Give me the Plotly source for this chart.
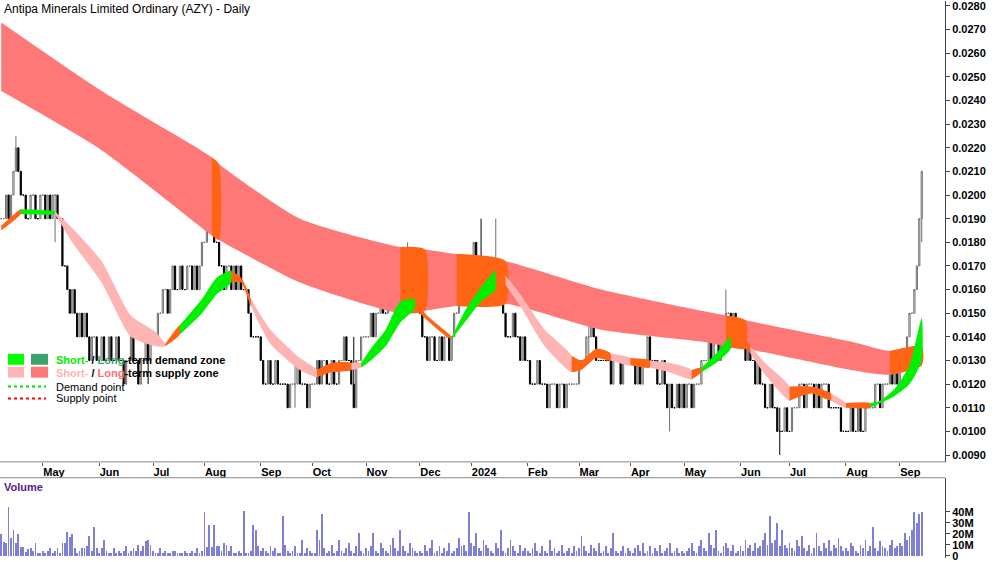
import plotly.graph_objects as go
import numpy as np

# daily closes in thousandths of a dollar, month by month (Apr 2023 .. Sep 2024)
closes = (
    [19,19,20,19,20,21,22,21,20,20,19,19,20,20,19,19,20]
    + [20,19,20,19,20,20,19,19,17,17,16,15,16,15,14,15,14,15,14,13,14,14,13]
    + [13,14,13,13,14,13,13,14,13,13,12,13,13,14,13,13,12,13,13,14,13,14]
    + [14,14,15,15,16,16,15,16,17,16,16,17,16,16,17,17,16,17,16,17,18]
    + [18,19,20,19,18,18,17,17,16,17,17,16,17,16,17,16,16,16,15,14,14,14,14]
    + [13,12,12,13,12,12,13,12,12,12,12,11,12,12,12,13,12,12,12,11,12]
    + [12,12,13,12,13,13,12,12,13,12,12,13,13,14,13,13,12,11,13,13,14,14]
    + [14,14,15,14,15,15,16,15,15,16,16,17,16,17,17,16,16,17,17,17,16,16]
    + [15,14,14,13,14,14,13,13,14,13,14,14,13,14,15,15,16,16,17,17,16]
    + [17,18,17,16,16,17,17,16,17,17,17,17,16,15,14,14,14,15,14,14,13,14,13]
    + [13,12,12,12,13,12,12,12,11,12,12,12,11,12,12,11,12,12,12,12,12]
    + [13,13,13,14,14,15,14,13,13,13,13,13,13,12,13,13,13,12,13,13,13]
    + [13,13,12,13,12,13,13,14,13,13,13,12,12,13,12,11,12,11,11,12,11,12]
    + [11,12,12,11,12,12,12,13,13,13,14,13,14,14,13,14,14,15,15,14,15,14,14]
    + [14,14,13,14,13,13,12,13,12,12,11,11,12,11,11,10,10,10,11,10]
    + [10,11,11,11,12,12,11,12,12,12,11,12,11,12,12,12,11,11,11,11,11,10,10]
    + [10,10,11,10,10,11,10,10,11,11,11,11,12,12,11,12,12,12,13,12,13,12]
    + [13,13,13,14,15,15,16,17,19,21]
)

# wick extremes that stand out
spike_idx = [6, 22, 60, 85, 120, 144, 166, 196, 202, 240, 273, 296, 318, 376]
spike_high = [22.5, 20, 14, 21.3, 13, 14, 18, 19, 19, 15, 12, 16, 11, 21]
spike_low = [21, 18, 12, 19, 11, 11, 16, 17, 17, 13, 10, 14, 9, 18]

# daily volume in millions of shares
volumes = (
    [20,13,12,45,16,24,12,20,8,8,4,6,7,5,12,3,3]
    + [5,3,5,7,3,5,7,3,12,12,22,17,20,7,3,5,7,7,9,18,5,26,7]
    + [3,7,15,5,3,3,7,3,5,3,5,9,3,5,7,5,10,5,9,14,15,10]
    + [5,3,3,7,3,5,3,3,5,5,3,3,3,5,3,3,5,3,7,3,5]
    + [40,8,28,8,28,9,9,5,12,10,5,9,3,3,5,3,41,3,3,5,28,24,9]
    + [5,7,5,3,9,5,7,3,3,36,10,5,3,5,9,3,3,15,3,7,5]
    + [3,3,24,15,38,7,3,5,10,3,5,15,5,3,7,12,5,3,9,21,5,3]
    + [7,5,9,21,5,3,12,7,5,3,10,16,7,5,24,9,5,3,12,7,5,3]
    + [5,3,10,5,7,15,3,5,9,3,7,5,12,3,5,7,16,9,10,5,40]
    + [12,9,21,7,5,15,10,7,5,3,12,7,24,5,3,7,15,9,5,3,10,5,7]
    + [5,3,7,12,5,3,9,5,3,15,5,7,3,5,10,3,5,7,3,9,5]
    + [7,18,9,5,3,10,7,5,12,3,5,9,3,7,21,5,3,5,9,3,7]
    + [5,3,7,10,5,12,3,5,9,3,7,5,10,3,5,7,12,3,5,7,3,5]
    + [3,5,7,12,5,3,9,15,7,5,21,10,7,24,5,3,9,12,7,5,10,3,5]
    + [9,5,15,7,10,5,12,7,9,15,21,10,36,12,15,30,9,24,10,7]
    + [12,7,5,15,9,18,7,5,10,3,7,21,9,5,12,7,15,5,10,7,16,9,5]
    + [7,5,12,9,5,3,10,7,15,5,9,26,7,5,14,9,7,5,10,15,7,9]
    + [12,9,21,15,18,24,40,30,38,40]
)

month_idx = [17, 40, 62, 83, 106, 127, 149, 171, 192, 215, 236, 257, 279, 302, 322, 345, 367]
month_lbl = ["May", "Jun", "Jul", "Aug", "Sep", "Oct", "Nov", "Dec", "2024", "Feb", "Mar",
             "Apr", "May", "Jun", "Jul", "Aug", "Sep"]
price_ticks = [0.009, 0.010, 0.011, 0.012, 0.013, 0.014, 0.015, 0.016, 0.017, 0.018, 0.019,
               0.020, 0.021, 0.022, 0.023, 0.024, 0.025, 0.026, 0.027, 0.028]

# long-term supply zone edges
lt_i = [0, 41, 86, 89, 122, 163, 173, 186, 206, 245, 286, 296, 304, 347, 363, 376]
lt_hi = [27.3, 24.4, 21.6, 21.3, 19.0, 17.8, 17.7, 17.5, 17.2, 16.0, 15.1, 14.9, 14.7, 13.8, 13.4, 13.6]
lt_lo = [24.4, 21.9, 18.3, 18.1, 16.3, 15.0, 15.1, 15.3, 15.4, 14.3, 13.8, 13.6, 13.5, 12.6, 12.4, 12.8]
lt_orange = [(86, 89), (163, 173), (186, 206), (296, 304), (363, 376)]

# short-term zone edges, colour code of the segment starting at each point
st_i = [0, 8, 22, 29, 41, 53, 63, 67, 73, 82, 88, 94, 98, 102, 110, 122, 129, 135, 143, 147, 151,
        157, 163, 169, 173, 182, 184, 190, 196, 202, 206, 212, 222, 233, 237, 243, 249, 257, 265,
        273, 282, 286, 292, 298, 302, 306, 312, 322, 331, 339, 345, 355, 359, 365, 371, 376]
st_hi = [18.7, 19.4, 19.3, 18.6, 17.2, 14.9, 14.2, 13.7, 14.5, 15.6, 16.5, 16.8, 16.5, 15.6, 14.3,
         13.1, 12.6, 12.9, 12.9, 12.9, 13.5, 14.3, 15.5, 15.6, 15.0, 14.2, 14.0, 15.2, 16.1, 16.8,
         16.6, 15.8, 14.3, 13.2, 13.0, 13.5, 13.3, 13.1, 13.0, 12.9, 12.6, 12.7, 13.3, 14.0, 14.1,
         13.6, 12.9, 11.9, 11.9, 11.6, 11.2, 11.2, 11.3, 11.8, 12.8, 14.8]
st_lo = [18.5, 19.2, 19.2, 18.0, 16.3, 14.0, 13.6, 13.6, 14.1, 15.0, 15.8, 16.3, 16.3, 15.3, 13.7,
         12.6, 12.3, 12.5, 12.6, 12.7, 13.0, 13.6, 14.6, 15.2, 14.8, 14.0, 13.9, 14.7, 15.5, 16.0,
         16.2, 15.3, 13.6, 12.5, 12.6, 13.1, 13.0, 12.8, 12.7, 12.5, 12.2, 12.5, 12.9, 13.5, 13.9,
         13.3, 12.4, 11.3, 11.6, 11.3, 11.0, 11.0, 11.2, 11.5, 12.0, 13.0]
st_col = list("OGPPPPPOGGGOOPPPOOPGGGGOOOGGGOPPPOOOPOPPOGGOOPPOOPOGGGG") + ["G"]

colors = {"O": "#FF6414", "G": "#00F000", "P": "#FFB4B4"}
LONG = "#FF7878"

n = len(closes)
idx = np.arange(n)
c = np.array(closes, dtype=float)
o = np.concatenate([[c[0]], c[:-1]])
h = np.maximum(o, c)
l = np.minimum(o, c)
for k, hi_, lo_ in zip(spike_idx, spike_high, spike_low):
    h[k] = max(h[k], hi_)
    l[k] = min(l[k], lo_)

fig = go.Figure()


def band(xs, top, bot, color):
    fig.add_trace(go.Scatter(
        x=list(xs) + list(xs)[::-1], y=[v / 1000 for v in list(top) + list(bot)[::-1]],
        fill="toself", fillcolor=color, line=dict(width=0, shape="spline", smoothing=0.6),
        mode="lines", hoverinfo="skip", showlegend=False, xaxis="x", yaxis="y"))


band(lt_i, lt_hi, lt_lo, LONG)
for a, b in lt_orange:
    sel = [k for k, v in enumerate(lt_i) if a <= v <= b]
    band([lt_i[k] for k in sel], [lt_hi[k] for k in sel], [lt_lo[k] for k in sel], colors["O"])

# short-term zone, one polygon per colour run
start = 0
for k in range(1, len(st_i)):
    if k == len(st_i) - 1 or st_col[k] != st_col[start]:
        band(st_i[start:k + 1], st_hi[start:k + 1], st_lo[start:k + 1], colors[st_col[start]])
        start = k

fig.add_trace(go.Candlestick(
    x=idx, open=o / 1000, high=h / 1000, low=l / 1000, close=c / 1000,
    increasing=dict(line=dict(color="#707070", width=1), fillcolor="white"),
    decreasing=dict(line=dict(color="black", width=1), fillcolor="black"),
    whiskerwidth=0, showlegend=False, hoverinfo="skip", xaxis="x", yaxis="y"))

fig.add_trace(go.Bar(x=idx, y=np.array(volumes) * 1e6, width=0.35,
                     marker=dict(color="#7F7FD6", line=dict(width=0)),
                     showlegend=False, xaxis="x2", yaxis="y2"))

W, H, PW = 1000, 562, 945
tick_font = dict(family="Liberation Sans, Arial", size=11, color="black", weight="bold")

fig.update_layout(
    width=W, height=H, margin=dict(l=0, r=W - PW, t=0, b=0),
    paper_bgcolor="white", plot_bgcolor="white", bargap=0,
    xaxis=dict(domain=[0, 1], range=[-0.5, 385.5], anchor="y", tickvals=month_idx,
               ticktext=month_lbl, ticks="outside", ticklen=3, tickcolor="#555",
               ticklabelposition="outside right", showgrid=False, zeroline=False,
               rangeslider=dict(visible=False), tickfont=tick_font, showline=False),
    xaxis2=dict(domain=[0, 1], range=[-0.5, 385.5], anchor="y2", showticklabels=False,
                showgrid=False, zeroline=False),
    yaxis=dict(domain=[1 - 465 / H, 1], range=[0.00871, 0.02821], side="right",
               tickvals=price_ticks, ticktext=[f"{v:.4f}" for v in price_ticks],
               ticks="outside", ticklen=4, ticklabeloverflow="allow",
               showgrid=False, zeroline=False, showline=True, linecolor="#444",
               tickfont=tick_font),
    yaxis2=dict(domain=[0, 1 - 481 / H], range=[-2e6, 71e6], side="right",
                tickvals=[0, 10e6, 20e6, 30e6, 40e6], ticktext=["0", "10M", "20M", "30M", "40M"],
                ticks="outside", ticklen=4, ticklabeloverflow="allow", showgrid=False,
                zeroline=False, showline=True, linecolor="#444", tickfont=tick_font),
)


def px(x):
    return x / PW


def py(y):
    return 1 - y / H


shapes = [
    dict(type="line", xref="paper", yref="paper", x0=0, x1=1, y0=py(465), y1=py(465),
         line=dict(color="#888", width=1)),
    dict(type="line", xref="paper", yref="paper", x0=0, x1=1, y0=py(481), y1=py(481),
         line=dict(color="#888", width=1)),
    dict(type="rect", xref="paper", yref="paper", x0=px(8), x1=px(24), y0=py(367), y1=py(356),
         fillcolor="#00FF00", line=dict(width=0)),
    dict(type="rect", xref="paper", yref="paper", x0=px(31), x1=px(48), y0=py(367), y1=py(356),
         fillcolor="#3CA36A", line=dict(width=0)),
    dict(type="rect", xref="paper", yref="paper", x0=px(8), x1=px(24), y0=py(380), y1=py(369),
         fillcolor="#FFB4B4", line=dict(width=0)),
    dict(type="rect", xref="paper", yref="paper", x0=px(31), x1=px(48), y0=py(380), y1=py(369),
         fillcolor=LONG, line=dict(width=0)),
    dict(type="line", xref="paper", yref="paper", x0=px(8), x1=px(46), y0=py(389), y1=py(389),
         line=dict(color="#00E000", width=2, dash="dot")),
    dict(type="line", xref="paper", yref="paper", x0=px(8), x1=px(46), y0=py(401), y1=py(401),
         line=dict(color="#FF0000", width=2, dash="dot")),
]
fig.update_layout(shapes=shapes)

lf = dict(family="Liberation Sans, Arial", size=11, color="black")
notes = [
    (2, 8, "Antipa Minerals Limited Ordinary (AZY) - Daily", dict(lf, size=12)),
    (2, 490, "<b>Volume</b>", dict(lf, color="#5B1A8C", size=11)),
    (54, 362, "<span style='color:#00EE00'><b>Short-</b></span><b> / </b>"
              "<span style='color:#3CA36A'><b>Long</b></span><b>-term demand zone</b>", lf),
    (54, 375, "<span style='color:#FFB4B4'><b>Short-</b></span><b> / </b>"
              "<span style='color:#FF7070'><b>Long</b></span><b>-term supply zone</b>", lf),
    (54, 389, "Demand point", lf),
    (54, 401, "Supply point", lf),
]
fig.update_layout(annotations=[
    dict(x=px(x), y=py(y), xref="paper", yref="paper", text=t, showarrow=False,
         xanchor="left", yanchor="middle", font=f) for x, y, t, f in notes])

fig.write_html("out.html", config={"displayModeBar": False},
               post_script="document.body.style.margin='0';")
